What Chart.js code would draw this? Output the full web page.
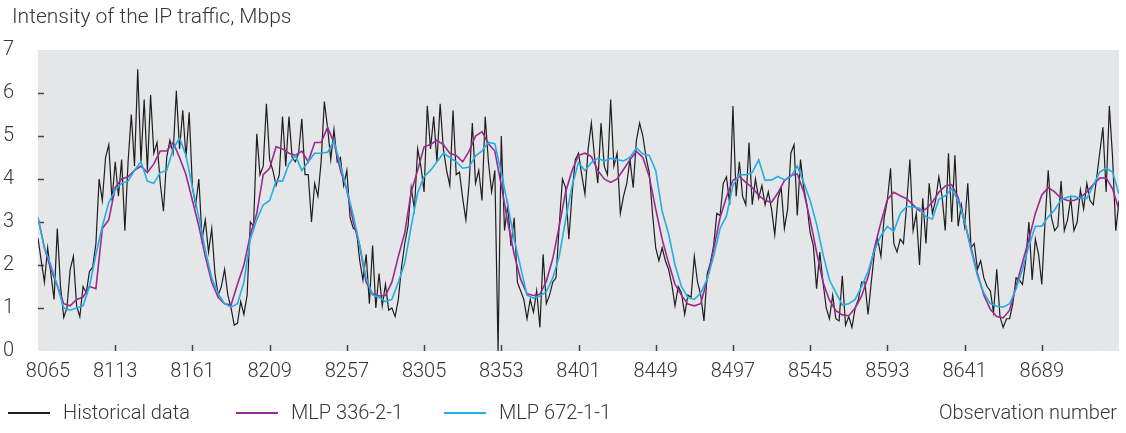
<!DOCTYPE html>
<html lang="en">
<head>
  <meta charset="UTF-8" />
  <title>Intensity of the IP traffic</title>
  <script src="https://cdn.jsdelivr.net/npm/chart.js@4"></script>
  <style>
    body { margin: 0; background: #fff; font-family: Roboto, sans-serif; font-weight: 300; color: #363636; }
    .wrap { position: relative; width: 1126px; height: 433px; }
    .ytitle { position: absolute; left: 12px; top: 4px; font-size: 21px; white-space: nowrap; }
    .xtitle { position: absolute; right: 9px; top: 400px; font-size: 20px; white-space: nowrap; }
    .item { position: absolute; top: 400px; font-size: 20px; white-space: nowrap; }
    .swatch { position: absolute; top: 412px; width: 42px; height: 2px; }
    .sw-hist { left: 8px; background-color: #1e1e1e; }
    .sw-336 { left: 236px; background-color: #9b2a8f; }
    .sw-672 { left: 444px; background-color: #22aee6; }
  </style>
</head>
<body>
  <div class="wrap">
    <canvas id="chart"></canvas>
    <div class="ytitle">Intensity of the IP traffic, Mbps</div>
    <div class="swatch sw-hist"></div>
    <div class="item" style="left:63px">Historical data</div>
    <div class="swatch sw-336"></div>
    <div class="item" style="left:291px">MLP 336-2-1</div>
    <div class="swatch sw-672"></div>
    <div class="item" style="left:499px">MLP 672-1-1</div>
    <div class="xtitle">Observation number</div>
  </div>

  <script>
    const obsStart = 8065;
    const obsEnd = 8737;
    const histStep = 2;   // historical data read every 2 observations
    const mlpStep = 4;    // model outputs read every 4 observations

    const xTicks = [8065, 8113, 8161, 8209, 8257, 8305, 8353, 8401, 8449, 8497, 8545, 8593, 8641, 8689];
    const yTicks = [0, 1, 2, 3, 4, 5, 6, 7];

    const historical = [
      2.62, 2.1, 1.6, 2.4, 1.8, 1.2, 2.85, 1.5, 0.78, 1.0,
      1.9, 2.2, 1.05, 0.8, 1.5, 1.35, 1.85, 1.95, 2.5, 4.0,
      3.5, 4.5, 4.8, 3.5, 4.4, 3.6, 4.45, 2.8, 4.4, 5.5,
      4.3, 6.55, 4.4, 5.85, 4.2, 5.95, 4.6, 4.85, 3.9, 3.25,
      4.5, 4.9, 4.6, 6.05, 4.7, 5.6, 4.5, 5.55, 3.8, 3.4,
      4.0, 2.6, 3.05, 2.3, 2.85, 1.8, 1.3, 1.5, 1.9, 1.3,
      1.0, 0.6, 0.65, 1.15, 0.85, 1.3, 3.0, 2.9, 5.05, 4.1,
      4.3, 5.75, 4.45, 4.2, 3.85, 4.1, 5.45, 4.3, 5.45, 4.5,
      4.4, 4.6, 5.4, 4.1, 4.1, 3.0, 3.9, 3.6, 4.4, 5.8,
      5.2, 4.45, 5.15, 4.4, 4.5, 3.85, 4.2, 3.1, 2.85, 2.8,
      2.1, 1.65, 2.25, 1.1, 2.45, 1.0, 1.8, 1.05, 1.55, 0.95,
      1.0, 0.8, 1.2, 1.95, 2.5, 2.9, 3.8, 3.3, 4.7, 4.3,
      3.7, 5.7, 4.7, 5.45, 4.4, 5.75, 4.7, 4.2, 3.85, 5.6,
      4.1, 4.16, 3.55, 3.05, 3.9, 5.3, 3.9, 4.2, 3.5, 5.45,
      4.4, 3.7, 4.2, 0.0, 5.0, 2.8, 3.4, 2.45, 3.1, 1.6,
      1.4, 1.2, 0.75, 1.2, 0.9, 1.4, 0.55, 2.25, 1.1, 1.3,
      1.6, 1.7, 2.9, 4.0, 3.8, 2.6, 3.65, 4.45, 4.6, 4.1,
      3.65, 4.7, 5.3, 4.5, 3.9, 5.3, 4.3, 4.1, 5.85, 4.3,
      4.6, 3.2, 3.6, 3.9, 4.45, 3.8, 4.9, 5.3, 5.0, 4.5,
      4.15, 3.2, 2.4, 2.1, 2.4, 2.1, 1.9, 1.55, 1.05, 1.5,
      1.35, 0.85, 1.3, 1.25, 2.2, 1.6, 1.3, 0.7, 1.8, 2.05,
      2.45, 3.2, 3.15, 3.9, 4.05, 3.4, 5.7, 3.6, 4.4, 3.6,
      3.4, 4.85, 3.4, 4.0, 3.55, 3.85, 3.4, 3.7, 3.3, 2.7,
      3.55, 3.8, 2.85, 3.3, 4.6, 4.8, 3.15, 4.45, 3.8, 3.4,
      2.75, 2.45, 1.45, 2.3, 1.6, 1.0, 0.75, 1.3, 0.75, 0.7,
      1.75, 0.6, 0.8, 0.55, 1.0, 1.2, 1.6, 1.6, 0.85, 1.6,
      2.3, 2.6, 2.2, 3.1, 3.5, 4.25, 2.5, 2.3, 2.6, 2.5,
      3.4, 4.45, 2.8, 3.2, 2.0, 3.55, 2.5, 3.9, 3.2, 3.5,
      4.05, 3.6, 2.8, 4.6, 3.0, 4.55, 2.9, 3.4, 2.9, 3.9,
      2.4, 2.5, 1.9, 2.1, 1.7, 1.5, 1.4, 0.9, 1.9, 0.8,
      0.55, 0.75, 0.75, 1.1, 1.7, 1.65, 1.55, 2.1, 3.0, 1.65,
      2.6, 2.25, 1.55, 3.0, 4.2, 3.1, 2.8, 2.9, 3.95, 2.8,
      3.05, 3.55, 2.8, 3.0, 3.75, 3.3, 3.9, 3.5, 3.4, 4.0,
      4.6, 5.2, 3.7, 5.7, 4.5, 2.8, 3.5
    ];

    const mlp336 = [
      3.1, 2.4, 1.9, 1.52, 1.1, 1.05, 1.2, 1.25, 1.5, 1.45,
      2.85, 3.05, 3.8, 4.0, 4.05, 4.2, 4.3, 4.15, 4.35, 4.65,
      4.65, 4.85, 4.5, 4.1, 3.5, 2.9, 2.2, 1.6, 1.25, 1.1,
      1.07, 1.55, 2.0, 2.7, 3.2, 4.1, 4.25, 4.75, 4.7, 4.6,
      4.55, 4.65, 4.4, 4.85, 4.85, 5.2, 4.85, 4.2, 3.75, 3.0,
      2.45, 1.6, 1.33, 1.28, 1.29, 1.6, 2.2, 2.75, 3.7, 4.2,
      4.75, 4.8, 4.9, 4.8, 4.6, 4.55, 4.4, 4.65, 5.0, 5.1,
      4.82, 4.65, 3.85, 3.0, 2.25, 1.67, 1.33, 1.29, 1.32, 1.62,
      2.15, 2.9, 3.7, 4.2, 4.55, 4.6, 4.52, 4.2, 4.0, 3.92,
      4.0, 4.22, 4.45, 4.64, 4.5, 4.05, 3.3, 2.6, 2.05, 1.55,
      1.3, 1.09, 1.05, 1.1, 1.67, 2.37, 3.1, 3.58, 3.97, 4.06,
      3.92, 3.8, 3.62, 3.5, 3.46, 3.68, 3.96, 4.08, 4.12, 3.7,
      3.05, 2.3, 1.6, 1.18, 0.94, 0.84, 0.82, 1.0, 1.28, 1.72,
      2.4, 2.99, 3.52, 3.69, 3.61, 3.54, 3.4, 3.26, 3.3, 3.46,
      3.69, 3.84, 3.87, 3.57, 3.0, 2.4, 1.8, 1.3, 0.97, 0.8,
      0.77, 0.95, 1.5, 2.06, 2.6, 3.2, 3.63, 3.8, 3.7, 3.55,
      3.5, 3.5, 3.57, 3.7, 3.87, 4.02, 4.03, 3.77, 3.28
    ];

    const mlp672 = [
      3.1, 2.4, 2.0, 1.52, 1.0, 0.95, 1.0, 1.05, 1.5, 2.25,
      2.9, 3.45, 3.75, 3.9, 3.95, 4.2, 4.4, 3.95, 3.9, 4.15,
      4.2, 4.7, 4.95, 4.55, 3.8, 3.1, 2.35, 1.7, 1.33, 1.1,
      1.02, 1.1, 1.6, 2.6, 3.05, 3.4, 3.5, 3.95, 3.95, 4.35,
      4.55, 4.2, 4.4, 4.6, 4.6, 4.62, 4.88, 4.32, 3.75, 3.15,
      2.45, 1.7, 1.3, 1.25, 1.15, 1.2, 1.6, 2.05, 2.9, 3.68,
      4.06, 4.2, 4.4, 4.6, 4.5, 4.4, 4.25, 4.28, 4.54, 4.65,
      4.85, 4.82, 4.15, 3.4, 2.6, 1.95, 1.3, 1.23, 1.28, 1.38,
      1.7, 2.2, 3.05, 3.84, 4.38, 4.2, 4.38, 4.48, 4.42, 4.48,
      4.45, 4.42, 4.5, 4.72, 4.58, 4.55, 4.2, 3.25, 2.72, 2.0,
      1.5, 1.24, 1.2, 1.35, 1.67, 2.2, 2.85, 3.14, 3.85, 4.1,
      4.1, 4.15, 4.45, 3.97, 3.98, 4.06, 3.98, 4.05, 4.3, 3.92,
      3.5, 2.95, 2.25, 1.65, 1.36, 1.07, 1.1, 1.2, 1.5, 1.85,
      2.35, 2.68, 2.9, 2.78, 3.2, 3.36, 3.35, 3.32, 3.12, 3.07,
      3.53, 3.61, 3.77, 3.5, 3.02, 2.35, 1.75, 1.35, 1.1, 1.04,
      1.02, 1.1, 1.44, 1.9, 2.45, 2.9, 2.9, 3.12, 3.28, 3.52,
      3.58, 3.6, 3.55, 3.55, 3.85, 4.16, 4.25, 4.16, 3.65
    ];

    const toPoints = (vals, step) => vals.map((v, k) => ({ x: obsStart + k * step, y: v }));

    const textColor = '#363636';
    const tickFont = { family: 'Roboto', size: 20, weight: 300 };

    // grey plot background
    const plotBg = {
      id: 'plotBg',
      beforeDraw(chart) {
        const { ctx, chartArea: a } = chart;
        ctx.save();
        ctx.fillStyle = '#e5e6e8';
        ctx.fillRect(a.left, a.top, a.right - a.left, a.bottom - a.top);
        ctx.restore();
      }
    };

    // short tick marks drawn inside the plot
    const tickMarks = {
      id: 'tickMarks',
      beforeDatasetsDraw(chart) {
        const { ctx, chartArea: a, scales: { x, y } } = chart;
        ctx.save();
        ctx.strokeStyle = '#444';
        ctx.lineWidth = 1.5;
        ctx.beginPath();
        yTicks.slice(1, -1).forEach(v => {
          const py = Math.round(y.getPixelForValue(v)) + 0.5;
          ctx.moveTo(a.left, py);
          ctx.lineTo(a.left + 6, py);
        });
        xTicks.slice(1).forEach(v => {
          const px = Math.round(x.getPixelForValue(v)) + 0.5;
          ctx.moveTo(px, a.bottom);
          ctx.lineTo(px, a.bottom - 6);
        });
        ctx.stroke();
        ctx.restore();
      }
    };

    // first x label sits a bit to the right of the axis corner
    const firstLabelShift = {
      id: 'firstLabelShift',
      afterLayout(chart) {
        const items = chart.scales.x.getLabelItems();
        if (items.length && items[0].options && items[0].options.translation) {
          items[0].options.translation[0] += 10;
        }
      }
    };

    new Chart(document.getElementById('chart'), {
      type: 'line',
      data: {
        datasets: [
          { label: 'Historical data', data: toPoints(historical, histStep), borderColor: '#1e1e1e', borderWidth: 1.2, order: 3 },
          { label: 'MLP 336-2-1', data: toPoints(mlp336, mlpStep), borderColor: '#9b2a8f', borderWidth: 1.6, order: 2 },
          { label: 'MLP 672-1-1', data: toPoints(mlp672, mlpStep), borderColor: '#22aee6', borderWidth: 1.6, order: 1 }
        ]
      },
      options: {
        animation: false,
        responsive: true,
        maintainAspectRatio: false,
        elements: { point: { radius: 0 }, line: { tension: 0 } },
        layout: { padding: { left: 0, right: 7, top: 50, bottom: 0 } },
        plugins: { legend: { display: false }, tooltip: { enabled: false } },
        scales: {
          x: {
            type: 'linear',
            min: obsStart,
            max: obsEnd,
            grid: { display: false },
            border: { display: false },
            afterBuildTicks: s => { s.ticks = xTicks.map(v => ({ value: v })); },
            afterFit: s => { s.height = 82; },
            ticks: { font: tickFont, color: textColor, padding: 1, maxRotation: 0, autoSkip: false, callback: v => String(v) }
          },
          y: {
            min: 0,
            max: 7,
            grid: { display: false },
            border: { display: false },
            afterBuildTicks: s => { s.ticks = yTicks.map(v => ({ value: v })); },
            afterFit: s => { s.width = 38; },
            ticks: { font: tickFont, color: textColor, padding: 16, callback: v => String(v) }
          }
        }
      },
      plugins: [plotBg, tickMarks, firstLabelShift]
    });
  </script>
</body>
</html>
